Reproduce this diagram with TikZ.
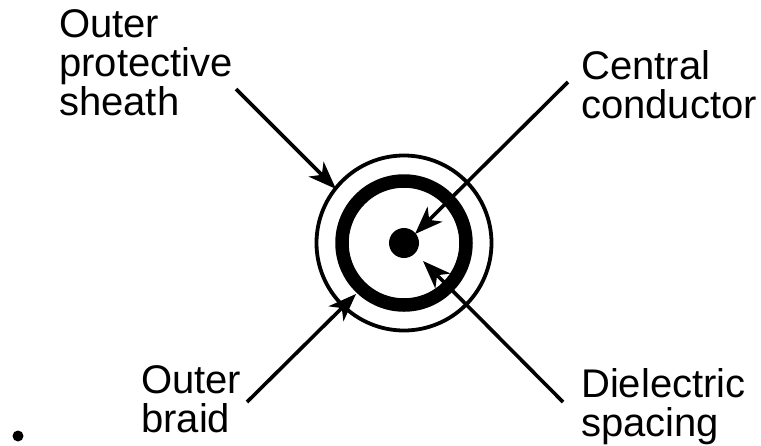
\documentclass[tikz,border=0pt]{standalone}
\usepackage{fontspec}
\setmainfont{Liberation Sans}
\usetikzlibrary{positioning}
\usetikzlibrary{arrows.meta}
\tikzset{%
  pointer/.style = {-{Stealth[length=28pt,width=21pt,inset=8pt]},line width=3.6pt},
  ring/.style = {circle,draw,inner sep=0pt},
  label/.style = {align=left,anchor=north west,inner sep=0pt,font=\fontsize{40}{39}\selectfont},
  dotnode/.style = {circle,fill,inner sep=0pt}
}
\begin{document}
\begin{tikzpicture}[x=1pt,y=-1pt]
    \useasboundingbox (0,0) rectangle (761,445);
    \node[ring,line width=3.8pt,minimum size=175pt] (sheath) at (404,243) {};
    \node[ring,line width=13.5pt,minimum size=124pt] (braid) at (404,243) {};
    \node[dotnode,minimum size=30pt] (core) at (404,243) {};
    \node[dotnode,minimum size=11pt] (bullet) at (18,436) {};
    \node[label] (sheathtext) at (59,9) {Outer\\protective\\sheath};
    \node[label] (coretext) at (581,50) {Central\\conductor};
    \node[label] (braidtext) at (141,365) {Outer\\braid};
    \node[label] (spacingtext) at (581,368) {Dielectric\\spacing};
    \coordinate (sheathstart) at (236,89);
    \coordinate (sheathtip) at (336,189);
    \coordinate (corestart) at (568,82);
    \coordinate (coretip) at (415,234);
    \coordinate (braidstart) at (247,402);
    \coordinate (braidtip) at (356,294);
    \coordinate (spacingstart) at (563,402);
    \coordinate (spacingtip) at (423,261);
    \draw[pointer] (sheathstart) -- (sheathtip);
    \draw[pointer] (corestart) -- (coretip);
    \draw[pointer] (braidstart) -- (braidtip);
    \draw[pointer] (spacingstart) -- (spacingtip);
\end{tikzpicture}
\end{document}
